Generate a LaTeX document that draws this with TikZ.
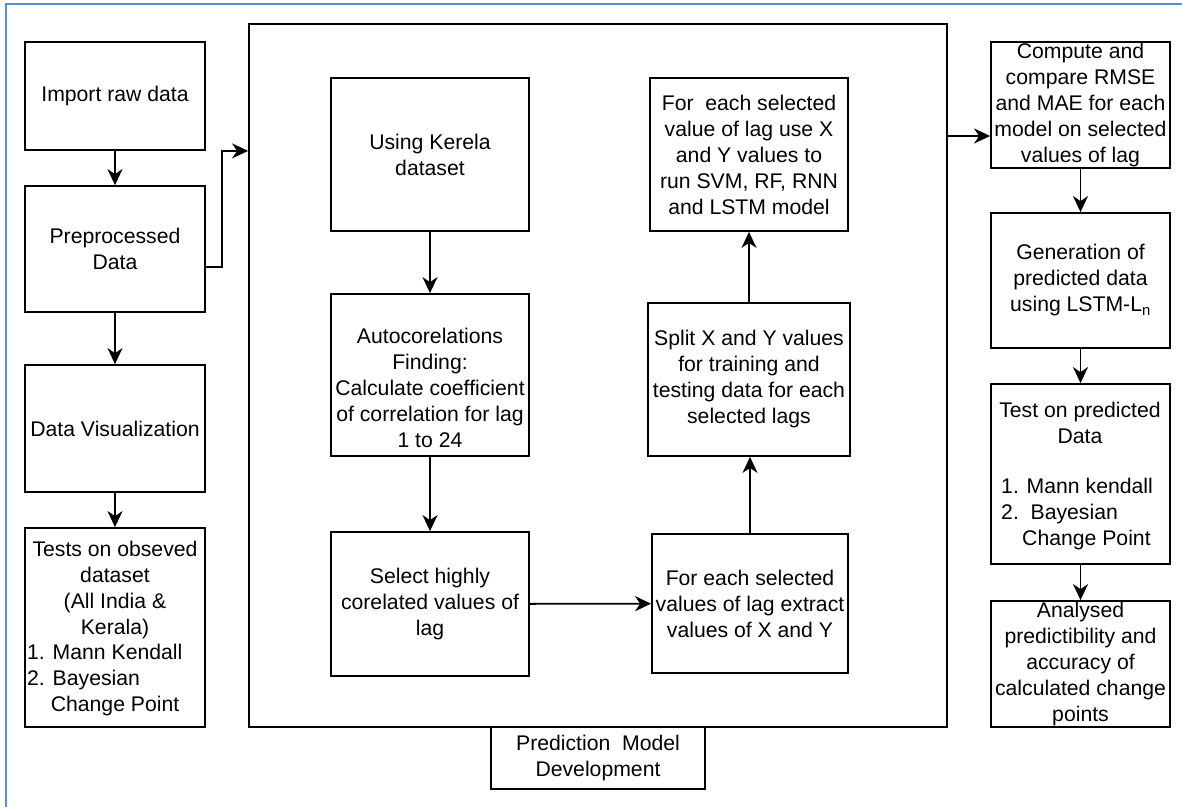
\documentclass[tikz,border=0pt]{standalone}
\usepackage{fontspec}
\setmainfont{Liberation Sans}
\usetikzlibrary{arrows.meta}
\definecolor{frameblue}{RGB}{91,141,214}
\newcommand\fs{\fontsize{21.2}{26}\selectfont}
\begin{document}
\begin{tikzpicture}[x=1pt,y=-1pt,
  box/.style={draw, line width=1.8pt, inner sep=0pt, align=center, font=\fs},
  txt/.style={inner sep=0pt, align=center, font=\fs},
  ltxt/.style={inner sep=0pt, align=left, font=\fs, anchor=west},
  arr/.style={line width=1.8pt, -{Stealth[length=16pt,width=15pt,inset=5pt]}}]
\useasboundingbox (0,0) rectangle (1182,807);
\fill[white] (0,0) rectangle (1182,807);
\draw[frameblue, line width=2.2pt] (6,807) -- (6,4) -- (1182,4);

% left column
\node[box, minimum width=180pt, minimum height=108pt] (imp) at (115,96) {Import raw data};
\node[box, minimum width=180pt, minimum height=126pt] (pre) at (115,249) {Preprocessed\\Data};
\node[box, minimum width=180pt, minimum height=127pt] (vis) at (115,428.5) {Data Visualization};
\node[box, minimum width=180pt, minimum height=199pt] (tst) at (115,627.5) {};
\node[txt] (tsta) at (115,590) {Tests on obseved\\dataset\\(All India \&\\Kerala)};
\node[ltxt] (tstb) at (27,680) {1. Mann Kendall\\2. Bayesian\\\hspace*{23.6pt}Change Point};

% big box
\node[box, minimum width=698pt, minimum height=703pt] (big) at (598,375.5) {};
\node[box, minimum width=214pt, minimum height=62pt] (lab) at (598,758) {Prediction\ \ Model\\Development};

\node[box, minimum width=198pt, minimum height=153pt] (use) at (430,154.5) {Using Kerela\\dataset};
\node[box, minimum width=198pt, minimum height=162pt] (auto) at (430,375) {};
\node[txt] (autot) at (430,388) {Autocorelations\\Finding:\\Calculate coefficient\\of correlation for lag\\1 to 24};
\node[box, minimum width=198pt, minimum height=144pt] (sel) at (430,604) {Select highly\\corelated values of\\lag};

\node[box, minimum width=198pt, minimum height=153pt] (run) at (749,154.5) {For\ \ each selected\\value of lag use X\\and Y values to\\run SVM, RF, RNN\\and LSTM model};
\node[box, minimum width=202pt, minimum height=153pt] (spl) at (749,379.5) {Split X and Y values\\for training and\\testing data for each\\selected lags};
\node[box, minimum width=196pt, minimum height=139pt] (ext) at (750,603.5) {For each selected\\values of lag extract\\values of X and Y};

% right column
\node[box, minimum width=179pt, minimum height=126pt] (cmp) at (1080.5,105) {Compute and\\compare RMSE\\and MAE for each\\model on selected\\values of lag};
\node[box, minimum width=179pt, minimum height=135pt] (gen) at (1080.5,280.5) {Generation of\\predicted data\\using LSTM-L\textsubscript{n}};
\node[box, minimum width=179pt, minimum height=180pt] (tpd) at (1080.5,474) {};
\node[txt] (tpa) at (1080,423) {Test on predicted\\Data};
\node[ltxt] (tpb) at (1001,514) {1. Mann kendall\\2.\ \ Bayesian\\\hspace*{21pt}Change Point};
\node[box, minimum width=179pt, minimum height=126pt] (ana) at (1080.5,664) {Analysed\\predictibility and\\accuracy of\\calculated change\\points};

% connectors
\draw[arr] (imp) -- (pre);
\draw[arr] (pre) -- (vis);
\draw[arr] (vis) -- (tst);
\coordinate (bend) at (222,267);
\draw[arr] (pre.east |- bend) -- (bend) |- (big.west |- imp.south);

\draw[arr] (use) -- (auto);
\draw[arr] (auto) -- (sel);
\draw[arr] (sel) -- (ext);
\draw[arr] (ext.north) -- (ext.north |- spl.south);
\draw[arr] (spl.north) -- (spl.north |- run.south);

\coordinate (out) at (947,136);
\draw[arr] (out) -- (cmp.west |- out);
\draw[arr] (cmp) -- (gen);
\draw[arr] (gen) -- (tpd);
\draw[arr] (tpd) -- (ana);
\end{tikzpicture}
\end{document}
